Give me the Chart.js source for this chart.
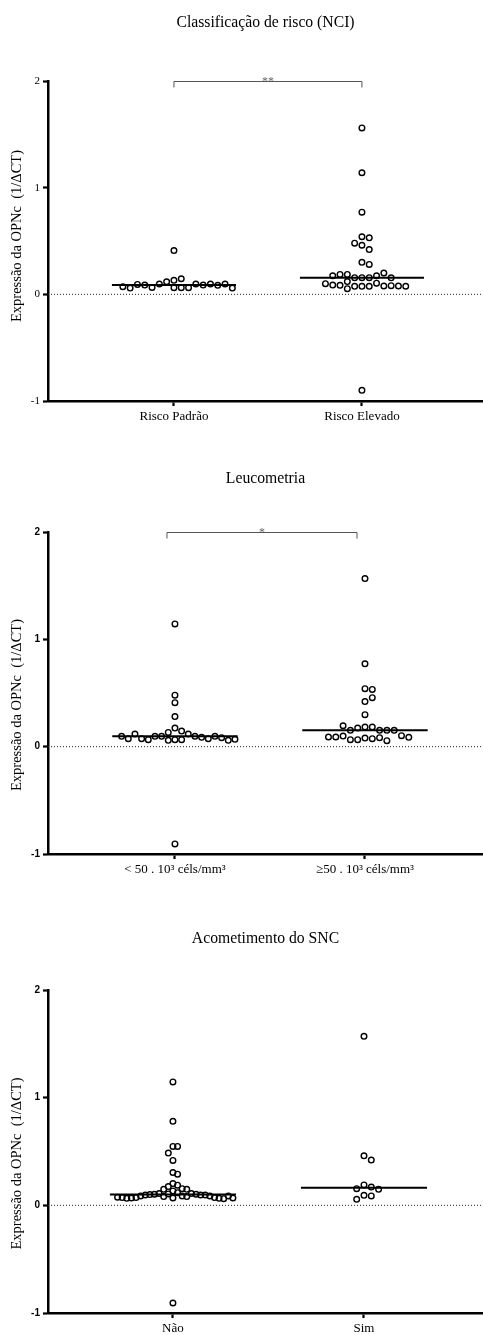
<!DOCTYPE html>
<html>
<head>
<meta charset="utf-8">
<script src="https://cdn.jsdelivr.net/npm/chart.js@4.4.0/dist/chart.umd.min.js"></script>
<style>
  html, body { margin: 0; padding: 0; background: #fff; overflow: hidden; }
  body { width: 483px; height: 1335px; position: relative; }
  canvas { position: absolute; left: 0; }
</style>
</head>
<body>
<canvas id="c1" width="483" height="440" style="top:0px"></canvas>
<canvas id="c2" width="483" height="444" style="top:440px"></canvas>
<canvas id="c3" width="483" height="451" style="top:884px"></canvas>
<script>
// values (1/ΔCT)
const riskCats = ["Risco Padrão", "Risco Elevado"];
const riskPadrao = [0.062, 0.062, 0.131, 0.118, 0.062, 0.097, 0.097, 0.065, 0.146, 0.087,
  0.087, 0.097, 0.093, 0.084, 0.059, 0.097, 0.072, 0.059, 0.41];
const riskElevado = [1.56, 1.14, 0.77, 0.54, 0.53, 0.46, 0.48, 0.42, 0.30, 0.28,
  0.156, 0.156, 0.156, 0.174, 0.187, 0.20, 0.187, 0.155, 0.174, 0.12, 0.105,
  0.075, 0.075, 0.075, 0.078, 0.084, 0.081, 0.087, 0.078, 0.053, 0.10, 0.076, -0.90];

const leucoCats = ["< 50 . 10³ céls/mm³", "≥50 . 10³ céls/mm³"];
const leucoBelow = [1.144, 0.48, 0.41, 0.28, 0.173, 0.145, 0.133, 0.117, 0.065, 0.065,
  0.096, 0.096, 0.059, 0.096, 0.087, 0.065, 0.074, 0.074, 0.096, 0.117, 0.084,
  0.074, 0.059, 0.096, 0.068, -0.906];
const leucoAbove = [1.566, 0.772, 0.54, 0.533, 0.42, 0.456, 0.298, 0.183, 0.183, 0.173,
  0.152, 0.152, 0.152, 0.195, 0.152, 0.08, 0.074, 0.065, 0.084, 0.099, 0.09,
  0.102, 0.09, 0.065, 0.087, 0.056];

const sncCats = ["Não", "Sim"];
const sncNao = [1.146, 0.78, 0.547, 0.547, 0.485, 0.417, 0.305, 0.289, 0.202, 0.187,
  0.174, 0.155, 0.149, 0.149, 0.134, 0.118, 0.109, 0.109, 0.106, 0.103, 0.103,
  0.100, 0.096, 0.096, 0.096, 0.087, 0.087, 0.087, 0.081, 0.081, 0.072, 0.072,
  0.068, 0.068, 0.065, 0.065, 0.062, 0.072, 0.087, 0.075, 0.068, -0.907];
const sncSim = [1.57, 0.46, 0.42, 0.19, 0.17, 0.155, 0.149, 0.093, 0.087, 0.056];

const yTicks = [-1, 0, 1, 2];
const yTitle = "Expressão da OPNc  (1/ΔCT)";

function median(a) {
  const s = [...a].sort((p, q) => p - q);
  const m = s.length >> 1;
  return s.length % 2 ? s[m] : (s[m - 1] + s[m]) / 2;
}

// column scatter: points go to the nearest free column, in the order they were read
function swarmOffsets(vals, ys) {
  const gap = 7;
  const cols = new Map();
  const k = vals.map(v => {
    const py = ys.getPixelForValue(v);
    for (let n = 0; ; n++) {
      const c = n === 0 ? 0 : (n % 2 ? (n + 1) / 2 : -n / 2);
      const col = cols.get(c) || [];
      if (col.every(q => Math.abs(q - py) >= gap)) {
        col.push(py); cols.set(c, col); return c;
      }
    }
  });
  const widest = Math.max(1, ...k.map(Math.abs));
  const step = Math.min(7.3, 60 / widest);
  return k.map(c => c * step);
}

const bracketPlugin = {
  id: "bracket",
  afterDraw(chart, args, opts) {
    if (!opts.label) return;
    const { ctx } = chart;
    const xs = chart.scales.x, ys = chart.scales.y;
    const x1 = xs.getPixelForValue(opts.from), x2 = xs.getPixelForValue(opts.to);
    const y = Math.round(ys.getPixelForValue(2)) + 0.5;
    ctx.save();
    ctx.strokeStyle = "#555";
    ctx.lineWidth = 1;
    ctx.beginPath();
    ctx.moveTo(x1, y + 6); ctx.lineTo(x1, y); ctx.lineTo(x2, y); ctx.lineTo(x2, y + 6);
    ctx.stroke();
    ctx.fillStyle = "#666";
    ctx.font = "12px 'Liberation Serif'";
    ctx.textAlign = "center";
    ctx.textBaseline = "alphabetic";
    ctx.fillText(opts.label, (x1 + x2) / 2, y + 3);
    ctx.restore();
  }
};

// y axis title, placed a little off the axis centre like in the figure
const yTitlePlugin = {
  id: "yTitle",
  afterDraw(chart, args, opts) {
    const { ctx, chartArea } = chart;
    ctx.save();
    ctx.translate(17, (chartArea.top + chartArea.bottom) / 2 + (opts.shift || 0));
    ctx.rotate(-Math.PI / 2);
    ctx.fillStyle = "#000";
    ctx.font = "14.5px 'Liberation Serif'";
    ctx.textAlign = "center";
    ctx.textBaseline = "middle";
    ctx.fillText(yTitle, 0, 0);
    ctx.restore();
  }
};

function makePanel(id, p) {
  const groups = [p.first, p.second];
  const axisGrid = { drawOnChartArea: false, drawTicks: true, tickLength: 5, tickWidth: 2.2, tickColor: "#000" };
  const axisBorder = { display: true, color: "#000", width: 2.5 };
  const datasets = [];
  groups.forEach((vals, g) => {
    datasets.push({
      type: "scatter",
      data: vals.map(v => ({ x: g + 1, y: v })),
      pointRadius: 2.8, pointHoverRadius: 2.8,
      borderWidth: 1.4, borderColor: "#000", backgroundColor: "rgba(0,0,0,0)"
    });
  });
  groups.forEach((vals, g) => {
    const med = median(vals);
    datasets.push({
      type: "line",
      data: [{ x: g + 1 - 0.33, y: med }, { x: g + 1 + 0.33, y: med }],
      borderColor: "#000", borderWidth: 2, pointRadius: 0
    });
  });
  datasets.push({
    type: "line",
    data: [{ x: p.xMin, y: 0 }, { x: p.xMax, y: 0 }],
    borderColor: "#222", borderWidth: 1, borderDash: [1, 2], pointRadius: 0
  });

  const chart = new Chart(document.getElementById(id), {
    type: "scatter",
    data: { datasets },
    plugins: [bracketPlugin, yTitlePlugin],
    options: {
      responsive: false,
      animation: false,
      events: [],
      layout: { padding: 0, autoPadding: false },
      plugins: {
        legend: { display: false },
        tooltip: { enabled: false },
        title: {
          display: true, text: p.title, fullSize: false, color: "#000",
          font: { family: "Liberation Serif", size: 15.7, weight: "normal" },
          padding: { top: p.titleTop, bottom: p.titleBottom }
        },
        bracket: p.bracket || {},
        yTitle: { shift: p.yTitleShift }
      },
      scales: {
        x: {
          type: "linear", min: p.xMin, max: p.xMax,
          afterBuildTicks: s => { s.ticks = [{ value: 1 }, { value: 2 }]; },
          afterFit: s => { s.height = p.xHeight; },
          ticks: {
            callback: v => p.cats[Math.round(v) - 1],
            font: { family: "Liberation Serif", size: 13 }, color: "#000",
            padding: 3, maxRotation: 0, autoSkip: false
          },
          grid: axisGrid, border: axisBorder
        },
        y: {
          min: -1, max: 2,
          afterBuildTicks: s => { s.ticks = yTicks.map(v => ({ value: v })); },
          afterFit: s => { s.width = 48; },
          ticks: { callback: v => String(v), font: p.tickFont, color: "#000", padding: 3 },
          grid: axisGrid, border: axisBorder
        }
      }
    }
  });

  const xs = chart.scales.x, ys = chart.scales.y;
  const unit = xs.getPixelForValue(1) - xs.getPixelForValue(0);
  groups.forEach((vals, g) => {
    const offs = swarmOffsets(vals, ys);
    chart.data.datasets[g].data = vals.map((v, i) => ({ x: g + 1 + offs[i] / unit, y: v }));
  });
  chart.update("none");
}

const serifTicks = { family: "Liberation Serif", size: 11 };
const boldTicks = { family: "Liberation Sans", size: 10, weight: "bold" };

makePanel("c1", {
  title: "Classificação de risco (NCI)", cats: riskCats, first: riskPadrao, second: riskElevado,
  xMin: 0.33, xMax: 2.644, titleTop: 13.2, titleBottom: 48.96, xHeight: 39,
  tickFont: serifTicks, bracket: { label: "**", from: 1, to: 2 }, yTitleShift: -5
});
makePanel("c2", {
  title: "Leucometria", cats: leucoCats, first: leucoBelow, second: leucoAbove,
  xMin: 0.332, xMax: 2.621, titleTop: 29.9, titleBottom: 43.26, xHeight: 30,
  tickFont: boldTicks, bracket: { label: "*", from: 0.958, to: 1.958 }, yTitleShift: 12
});
makePanel("c3", {
  title: "Acometimento do SNC", cats: sncCats, first: sncNao, second: sncSim,
  xMin: 0.346, xMax: 2.623, titleTop: 45.9, titleBottom: 41.26, xHeight: 22,
  tickFont: boldTicks, yTitleShift: 12
});
</script>
</body>
</html>
